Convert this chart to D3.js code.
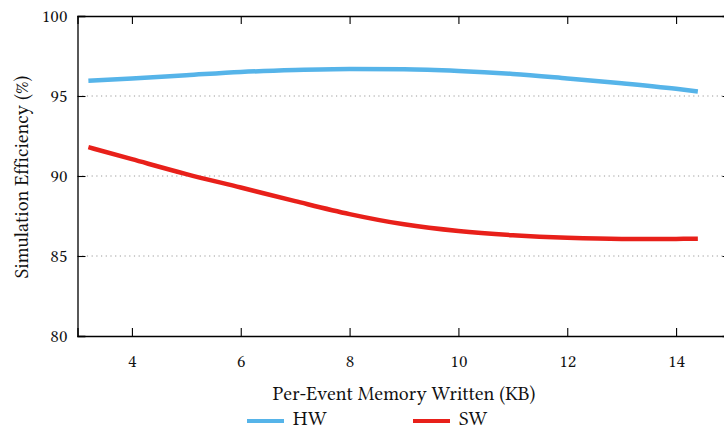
<!DOCTYPE html>
<html><head><meta charset="utf-8">
<script src="https://cdn.jsdelivr.net/npm/d3@7"></script>
<style>
html,body{margin:0;padding:0;background:#fff;}
svg{display:block;}
</style></head>
<body>
<svg id="chart" width="724" height="430"></svg>
<script>
const memKB = [3.2, 4, 5, 6, 7, 8, 9, 10, 11, 12, 13, 14, 14.4];
const hwEff = [95.96, 96.1, 96.3, 96.5, 96.62, 96.68, 96.67, 96.57, 96.38, 96.1, 95.8, 95.45, 95.28];
const swEff = [91.8, 91.05, 90.12, 89.28, 88.43, 87.62, 86.98, 86.56, 86.3, 86.14, 86.07, 86.07, 86.08];
const seriesNames = ["HW", "SW"];
const seriesColors = ["#56B4E9", "#E8201A"];
const xTicks = [4, 6, 8, 10, 12, 14];
const yTicks = [80, 85, 90, 95, 100];
const gridValues = [85, 90, 95];

const FONT = '"Libertinus Serif", "Linux Libertine O", "Liberation Serif", serif';
const svg = d3.select("#chart");
const m = {left: 77.5, top: 16, right: 730.5, bottom: 336};
const x = d3.scaleLinear().domain([3, 15]).range([m.left, m.right]);
const y = d3.scaleLinear().domain([80, 100]).range([m.bottom, m.top]);

// grid
svg.append("g").selectAll("line").data(gridValues).join("line")
  .attr("x1", m.left).attr("x2", m.right)
  .attr("y1", d => y(d)).attr("y2", d => y(d))
  .attr("stroke", "#9a9a9a").attr("stroke-width", 1)
  .attr("stroke-dasharray", "1.2,3.5");

// axes
const fs = "18.5px";
const fsTitle = "19.8px";
const gB = svg.append("g").attr("transform", `translate(0,${m.bottom})`)
  .call(d3.axisBottom(x).tickValues(xTicks).tickSize(-8).tickPadding(18).tickFormat(d3.format("d")));
const gT = svg.append("g").attr("transform", `translate(0,${m.top})`)
  .call(d3.axisTop(x).tickValues(xTicks).tickSize(-8).tickFormat(""));
const gL = svg.append("g").attr("transform", `translate(${m.left},0)`)
  .call(d3.axisLeft(y).tickValues(yTicks).tickSize(-8).tickPadding(10).tickFormat(d3.format("d")));
const gR = svg.append("g").attr("transform", `translate(${m.right},0)`)
  .call(d3.axisRight(y).tickValues(yTicks).tickSize(-8).tickFormat(""));
[gB, gT, gL, gR].forEach(g => {
  g.select(".domain").attr("stroke", "#000").attr("stroke-width", 1.3);
  g.selectAll(".tick line").attr("stroke", "#000").attr("stroke-width", 1.1);
  g.selectAll("text").style("font-family", FONT).style("font-size", fs).attr("fill", "#111");
});

// lines
const line = d3.line().x(d => x(d[0])).y(d => y(d[1])).curve(d3.curveMonotoneX);
[hwEff, swEff].forEach((vals, i) => {
  svg.append("path").datum(memKB.map((k, j) => [k, vals[j]]))
    .attr("d", line).attr("fill", "none")
    .attr("stroke", seriesColors[i]).attr("stroke-width", 4.5);
});

// axis titles
svg.append("text").attr("x", 404).attr("y", 400).attr("text-anchor", "middle")
  .style("font-family", FONT).style("font-size", fsTitle).attr("fill", "#111").text("Per-Event Memory Written (KB)");
svg.append("text").attr("transform", `translate(28,177) rotate(-90)`).attr("text-anchor", "middle")
  .style("font-family", FONT).style("font-size", fsTitle).attr("fill", "#111").text("Simulation Efficiency (%)");

// legend
const legX = [247, 413];
seriesNames.forEach((n, i) => {
  svg.append("line").attr("x1", legX[i]).attr("x2", legX[i] + 37)
    .attr("y1", 421).attr("y2", 421)
    .attr("stroke", seriesColors[i]).attr("stroke-width", 4);
  svg.append("text").attr("x", legX[i] + 46).attr("y", 425)
    .style("font-family", FONT).style("font-size", fsTitle).attr("fill", "#111").text(n);
});
</script>
</body></html>
